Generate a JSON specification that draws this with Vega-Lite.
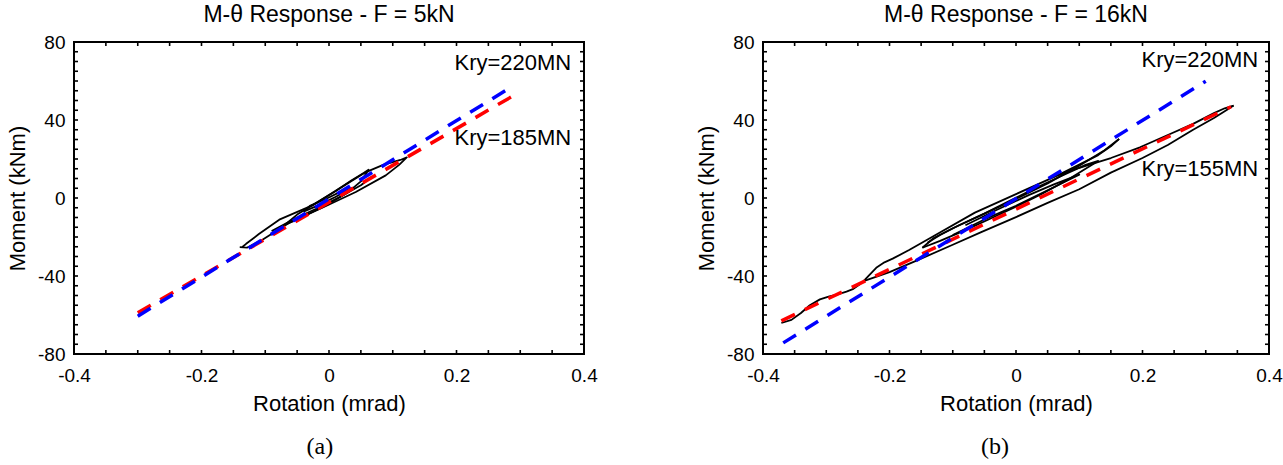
{
  "$schema": "https://vega.github.io/schema/vega-lite/v6.json",
  "background": "white",
  "padding": {"left": 6, "top": 4, "right": 5, "bottom": 5},
  "spacing": 97,
  "config": {
    "view": {"stroke": null},
    "axis": {
      "grid": false, "domain": false, "ticks": false, "labelColor": "black", "titleColor": "black", "labelFont": "Liberation Sans", "titleFont": "Liberation Sans",
      "labelFontSize": 19, "titleFontSize": 22, "titleFontWeight": "normal", "labelFlush": false, "labelOverlap": false
    }
  },
  "datasets": {
    "xticks": [
      {"v": -0.35}, {"v": -0.3}, {"v": -0.25}, {"v": -0.2}, {"v": -0.15}, {"v": -0.1}, {"v": -0.05}, {"v": 0},
      {"v": 0.05}, {"v": 0.1}, {"v": 0.15}, {"v": 0.2}, {"v": 0.25}, {"v": 0.3}, {"v": 0.35}
    ],
    "yticks": [
      {"v": -75}, {"v": -70}, {"v": -65}, {"v": -60}, {"v": -55}, {"v": -50}, {"v": -45}, {"v": -40},
      {"v": -35}, {"v": -30}, {"v": -25}, {"v": -20}, {"v": -15}, {"v": -10}, {"v": -5}, {"v": 0},
      {"v": 5}, {"v": 10}, {"v": 15}, {"v": 20}, {"v": 25}, {"v": 30}, {"v": 35}, {"v": 40},
      {"v": 45}, {"v": 50}, {"v": 55}, {"v": 60}, {"v": 65}, {"v": 70}, {"v": 75}
    ],
    "frame": [{"x0": -0.4, "x1": 0.4, "y0": -80, "y1": 80}],
    "curvesA": [
      {"seg": "A1", "i": 0, "x": -0.14, "y": -25.2}, {"seg": "A1", "i": 1, "x": -0.128, "y": -25.4},
      {"seg": "A1", "i": 2, "x": -0.105, "y": -21.5}, {"seg": "A1", "i": 3, "x": -0.063, "y": -12.8},
      {"seg": "A1", "i": 4, "x": -0.0105, "y": -5}, {"seg": "A1", "i": 5, "x": 0.042, "y": 3.1},
      {"seg": "A1", "i": 6, "x": 0.089, "y": 11.6}, {"seg": "A1", "i": 7, "x": 0.11, "y": 17},
      {"seg": "A1", "i": 8, "x": 0.122, "y": 20.8}, {"seg": "A1", "i": 9, "x": 0.112, "y": 19.5},
      {"seg": "A1", "i": 10, "x": 0.085, "y": 17}, {"seg": "A1", "i": 11, "x": 0.058, "y": 13.3},
      {"seg": "A1", "i": 12, "x": 0.016, "y": 4.8}, {"seg": "A1", "i": 13, "x": -0.026, "y": -3.8},
      {"seg": "A1", "i": 14, "x": -0.078, "y": -11.1}, {"seg": "A1", "i": 15, "x": -0.11, "y": -18.5},
      {"seg": "A1", "i": 16, "x": -0.13, "y": -23.5}, {"seg": "A1", "i": 17, "x": -0.136, "y": -25.1},
      {"seg": "A2", "i": 0, "x": -0.07, "y": -14}, {"seg": "A2", "i": 1, "x": -0.04, "y": -9.5},
      {"seg": "A2", "i": 2, "x": 0, "y": -3}, {"seg": "A2", "i": 3, "x": 0.03, "y": 3},
      {"seg": "A2", "i": 4, "x": 0.05, "y": 8.5}, {"seg": "A2", "i": 5, "x": 0.062, "y": 14.5},
      {"seg": "A2", "i": 6, "x": 0.055, "y": 13}, {"seg": "A2", "i": 7, "x": 0.035, "y": 9},
      {"seg": "A2", "i": 8, "x": 0.01, "y": 3.5}, {"seg": "A2", "i": 9, "x": -0.02, "y": -2.5},
      {"seg": "A2", "i": 10, "x": -0.05, "y": -8.5}, {"seg": "A2", "i": 11, "x": -0.07, "y": -14},
      {"seg": "A3", "i": 0, "x": -0.04, "y": -7}, {"seg": "A3", "i": 1, "x": -0.015, "y": -3.5},
      {"seg": "A3", "i": 2, "x": 0.01, "y": 0.5}, {"seg": "A3", "i": 3, "x": 0.035, "y": 5},
      {"seg": "A3", "i": 4, "x": 0.02, "y": 3.5}, {"seg": "A3", "i": 5, "x": -0.005, "y": -0.5},
      {"seg": "A3", "i": 6, "x": -0.03, "y": -4}, {"seg": "A3", "i": 7, "x": -0.04, "y": -7},
      {"seg": "A4", "i": 0, "x": -0.09, "y": -17}, {"seg": "A4", "i": 1, "x": -0.05, "y": -10},
      {"seg": "A4", "i": 2, "x": -0.02, "y": -5.5}, {"seg": "A4", "i": 3, "x": 0.02, "y": 1},
      {"seg": "A4", "i": 4, "x": 0.05, "y": 6.5}, {"seg": "A4", "i": 5, "x": 0.068, "y": 11}
    ],
    "curvesB": [
      {"seg": "B1", "i": 0, "x": -0.371, "y": -64.1}, {"seg": "B1", "i": 1, "x": -0.355, "y": -62.5},
      {"seg": "B1", "i": 2, "x": -0.34, "y": -59}, {"seg": "B1", "i": 3, "x": -0.326, "y": -55},
      {"seg": "B1", "i": 4, "x": -0.31, "y": -52}, {"seg": "B1", "i": 5, "x": -0.295, "y": -50.5},
      {"seg": "B1", "i": 6, "x": -0.283, "y": -49.5}, {"seg": "B1", "i": 7, "x": -0.268, "y": -48},
      {"seg": "B1", "i": 8, "x": -0.257, "y": -46.6}, {"seg": "B1", "i": 9, "x": -0.248, "y": -44.5},
      {"seg": "B1", "i": 10, "x": -0.241, "y": -42.6}, {"seg": "B1", "i": 11, "x": -0.232, "y": -39.5},
      {"seg": "B1", "i": 12, "x": -0.221, "y": -35.8}, {"seg": "B1", "i": 13, "x": -0.208, "y": -33},
      {"seg": "B1", "i": 14, "x": -0.195, "y": -31.1}, {"seg": "B1", "i": 15, "x": -0.169, "y": -26.7},
      {"seg": "B1", "i": 16, "x": -0.13, "y": -19.5}, {"seg": "B1", "i": 17, "x": -0.065, "y": -7.5},
      {"seg": "B1", "i": 18, "x": 0, "y": 2}, {"seg": "B1", "i": 19, "x": 0.065, "y": 11.5},
      {"seg": "B1", "i": 20, "x": 0.13, "y": 22}, {"seg": "B1", "i": 21, "x": 0.15, "y": 26.5},
      {"seg": "B1", "i": 22, "x": 0.163, "y": 30.3},
      {"seg": "B2", "i": 0, "x": 0.163, "y": 30.3}, {"seg": "B2", "i": 1, "x": 0.14, "y": 24.5},
      {"seg": "B2", "i": 2, "x": 0.1, "y": 16.5}, {"seg": "B2", "i": 3, "x": 0.05, "y": 7.5},
      {"seg": "B2", "i": 4, "x": 0, "y": -0.5}, {"seg": "B2", "i": 5, "x": -0.05, "y": -8},
      {"seg": "B2", "i": 6, "x": -0.1, "y": -15.5}, {"seg": "B2", "i": 7, "x": -0.13, "y": -20.5},
      {"seg": "B2", "i": 8, "x": -0.148, "y": -25.5},
      {"seg": "B3", "i": 0, "x": -0.241, "y": -42.6}, {"seg": "B3", "i": 1, "x": -0.2, "y": -38},
      {"seg": "B3", "i": 2, "x": -0.16, "y": -32.5}, {"seg": "B3", "i": 3, "x": -0.1, "y": -24},
      {"seg": "B3", "i": 4, "x": -0.055, "y": -17.5}, {"seg": "B3", "i": 5, "x": 0, "y": -9.8},
      {"seg": "B3", "i": 6, "x": 0.05, "y": -2.5}, {"seg": "B3", "i": 7, "x": 0.1, "y": 4.5},
      {"seg": "B3", "i": 8, "x": 0.15, "y": 13}, {"seg": "B3", "i": 9, "x": 0.2, "y": 20.5},
      {"seg": "B3", "i": 10, "x": 0.24, "y": 27.2}, {"seg": "B3", "i": 11, "x": 0.28, "y": 35},
      {"seg": "B3", "i": 12, "x": 0.313, "y": 41}, {"seg": "B3", "i": 13, "x": 0.335, "y": 45.5},
      {"seg": "B3", "i": 14, "x": 0.344, "y": 47.4},
      {"seg": "B4", "i": 0, "x": 0.344, "y": 47.4}, {"seg": "B4", "i": 1, "x": 0.33, "y": 46},
      {"seg": "B4", "i": 2, "x": 0.313, "y": 43.5}, {"seg": "B4", "i": 3, "x": 0.28, "y": 38},
      {"seg": "B4", "i": 4, "x": 0.24, "y": 32.3}, {"seg": "B4", "i": 5, "x": 0.196, "y": 26},
      {"seg": "B4", "i": 6, "x": 0.15, "y": 20.5}, {"seg": "B4", "i": 7, "x": 0.1, "y": 15.5},
      {"seg": "B4", "i": 8, "x": 0.065, "y": 11.5},
      {"seg": "B5", "i": 0, "x": -0.148, "y": -25.5}, {"seg": "B5", "i": 1, "x": -0.12, "y": -22},
      {"seg": "B5", "i": 2, "x": -0.08, "y": -16.5}, {"seg": "B5", "i": 3, "x": -0.04, "y": -10.5},
      {"seg": "B5", "i": 4, "x": 0, "y": -4.5}, {"seg": "B5", "i": 5, "x": 0.04, "y": 2},
      {"seg": "B5", "i": 6, "x": 0.08, "y": 9}, {"seg": "B5", "i": 7, "x": 0.11, "y": 15},
      {"seg": "B5", "i": 8, "x": 0.13, "y": 19}, {"seg": "B5", "i": 9, "x": 0.11, "y": 17},
      {"seg": "B5", "i": 10, "x": 0.07, "y": 11}, {"seg": "B5", "i": 11, "x": 0.03, "y": 5},
      {"seg": "B5", "i": 12, "x": -0.01, "y": -1.5}, {"seg": "B5", "i": 13, "x": -0.05, "y": -8},
      {"seg": "B5", "i": 14, "x": -0.09, "y": -14}, {"seg": "B5", "i": 15, "x": -0.12, "y": -19},
      {"seg": "B5", "i": 16, "x": -0.14, "y": -23},
      {"seg": "B6", "i": 0, "x": -0.1, "y": -19}, {"seg": "B6", "i": 1, "x": -0.05, "y": -11},
      {"seg": "B6", "i": 2, "x": 0, "y": -4}, {"seg": "B6", "i": 3, "x": 0.05, "y": 4},
      {"seg": "B6", "i": 4, "x": 0.1, "y": 12}, {"seg": "B6", "i": 5, "x": 0.06, "y": 7},
      {"seg": "B6", "i": 6, "x": 0.02, "y": 1.5}, {"seg": "B6", "i": 7, "x": -0.03, "y": -6},
      {"seg": "B6", "i": 8, "x": -0.08, "y": -14}
    ],
    "linesA": [
      {"k": "220", "x": -0.3, "y": -60.6}, {"k": "220", "x": 0.283, "y": 56.3},
      {"k": "185", "x": -0.3, "y": -58.8}, {"k": "185", "x": 0.29, "y": 52.6}
    ],
    "linesB": [
      {"k": "220", "x": -0.368, "y": -74.3}, {"k": "220", "x": 0.3, "y": 59.9},
      {"k": "155", "x": -0.371, "y": -63}, {"k": "155", "x": 0.34, "y": 46.8}
    ],
    "labelsA": [
      {"x": 0.38, "y": 69, "t": "Kry=220MN"},
      {"x": 0.38, "y": 31, "t": "Kry=185MN"}
    ],
    "labelsB": [
      {"x": 0.383, "y": 71, "t": "Kry=220MN"},
      {"x": 0.383, "y": 15, "t": "Kry=155MN"}
    ]
  },
  "hconcat": [
    {
      "title": {"text": "(a)", "orient": "bottom", "anchor": "middle", "font": "Liberation Serif", "fontSize": 24, "fontWeight": "normal", "color": "black", "offset": 21, "dx": 18},
      "vconcat": [
        {
          "width": 510, "height": 312,
          "title": {"text": "M-θ Response - F = 5kN", "font": "Liberation Sans", "fontSize": 23, "fontWeight": "normal", "color": "black", "offset": 6, "anchor": "middle"},
          "layer": [
            {
              "data": {"name": "curvesA"},
              "mark": {"type": "line", "color": "black", "strokeWidth": 1.8, "strokeJoin": "round"},
              "encoding": {
                "x": {"field": "x", "type": "quantitative", "scale": {"domain": [-0.4, 0.4], "nice": false, "zero": false},
                  "axis": {"orient": "bottom", "title": "Rotation (mrad)", "titlePadding": 8, "labelPadding": 12,
                    "values": [-0.4, -0.2, 0, 0.2, 0.4], "labelExpr": "'' + datum.value"}},
                "y": {"field": "y", "type": "quantitative", "scale": {"domain": [-80, 80], "nice": false, "zero": false},
                  "axis": {"orient": "left", "title": "Moment (kNm)", "titlePadding": 8, "labelPadding": 9,
                    "values": [-80, -40, 0, 40, 80], "labelExpr": "'' + datum.value"}},
                "detail": {"field": "seg"},
                "order": {"field": "i", "type": "quantitative"}
              }
            },
            {
              "data": {"name": "linesA"},
              "transform": [{"filter": "datum.k == '185'"}],
              "mark": {"type": "line", "color": "#ff0000", "strokeWidth": 3.5, "strokeDash": [15, 11]},
              "encoding": {"x": {"field": "x", "type": "quantitative"}, "y": {"field": "y", "type": "quantitative"}}
            },
            {
              "data": {"name": "linesA"},
              "transform": [{"filter": "datum.k == '220'"}],
              "mark": {"type": "line", "color": "#0000ff", "strokeWidth": 3.5, "strokeDash": [15, 11]},
              "encoding": {"x": {"field": "x", "type": "quantitative"}, "y": {"field": "y", "type": "quantitative"}}
            },
            {
              "data": {"name": "labelsA"},
              "mark": {"type": "text", "align": "right", "baseline": "middle", "font": "Liberation Sans", "fontSize": 22, "color": "black"},
              "encoding": {"x": {"field": "x", "type": "quantitative"}, "y": {"field": "y", "type": "quantitative"}, "text": {"field": "t"}}
            },
            {
              "data": {"name": "xticks"},
              "mark": {"type": "tick", "orient": "vertical", "size": 4, "thickness": 1.6, "color": "black", "opacity": 1, "yOffset": -2, "zindex": 2},
              "encoding": {"x": {"field": "v", "type": "quantitative"}, "y": {"datum": -80, "type": "quantitative"}}
            },
            {
              "data": {"name": "xticks"},
              "mark": {"type": "tick", "orient": "vertical", "size": 4, "thickness": 1.6, "color": "black", "opacity": 1, "yOffset": 2, "zindex": 2},
              "encoding": {"x": {"field": "v", "type": "quantitative"}, "y": {"datum": 80, "type": "quantitative"}}
            },
            {
              "data": {"name": "yticks"},
              "mark": {"type": "tick", "orient": "horizontal", "size": 4, "thickness": 1.6, "color": "black", "opacity": 1, "xOffset": 2, "zindex": 2},
              "encoding": {"y": {"field": "v", "type": "quantitative"}, "x": {"datum": -0.4, "type": "quantitative"}}
            },
            {
              "data": {"name": "yticks"},
              "mark": {"type": "tick", "orient": "horizontal", "size": 4, "thickness": 1.6, "color": "black", "opacity": 1, "xOffset": -2, "zindex": 2},
              "encoding": {"y": {"field": "v", "type": "quantitative"}, "x": {"datum": 0.4, "type": "quantitative"}}
            },
            {
              "data": {"name": "frame"},
              "mark": {"type": "rect", "fill": null, "fillOpacity": 0, "stroke": "black", "strokeWidth": 2, "strokeOpacity": 1, "zindex": 2},
              "encoding": {
                "x": {"field": "x0", "type": "quantitative"}, "x2": {"field": "x1"},
                "y": {"field": "y0", "type": "quantitative"}, "y2": {"field": "y1"}
              }
            }
          ]
        }
      ]
    },
    {
      "title": {"text": "(b)", "orient": "bottom", "anchor": "middle", "font": "Liberation Serif", "fontSize": 24, "fontWeight": "normal", "color": "black", "offset": 21, "dx": 6},
      "vconcat": [
        {
          "width": 506, "height": 312,
          "title": {"text": "M-θ Response - F = 16kN", "font": "Liberation Sans", "fontSize": 23, "fontWeight": "normal", "color": "black", "offset": 6, "anchor": "middle"},
          "layer": [
            {
              "data": {"name": "curvesB"},
              "mark": {"type": "line", "color": "black", "strokeWidth": 1.8, "strokeJoin": "round"},
              "encoding": {
                "x": {"field": "x", "type": "quantitative", "scale": {"domain": [-0.4, 0.4], "nice": false, "zero": false},
                  "axis": {"orient": "bottom", "title": "Rotation (mrad)", "titlePadding": 8, "labelPadding": 12,
                    "values": [-0.4, -0.2, 0, 0.2, 0.4], "labelExpr": "'' + datum.value"}},
                "y": {"field": "y", "type": "quantitative", "scale": {"domain": [-80, 80], "nice": false, "zero": false},
                  "axis": {"orient": "left", "title": "Moment (kNm)", "titlePadding": 8, "labelPadding": 9,
                    "values": [-80, -40, 0, 40, 80], "labelExpr": "'' + datum.value"}},
                "detail": {"field": "seg"},
                "order": {"field": "i", "type": "quantitative"}
              }
            },
            {
              "data": {"name": "linesB"},
              "transform": [{"filter": "datum.k == '155'"}],
              "mark": {"type": "line", "color": "#ff0000", "strokeWidth": 3.5, "strokeDash": [15, 11]},
              "encoding": {"x": {"field": "x", "type": "quantitative"}, "y": {"field": "y", "type": "quantitative"}}
            },
            {
              "data": {"name": "linesB"},
              "transform": [{"filter": "datum.k == '220'"}],
              "mark": {"type": "line", "color": "#0000ff", "strokeWidth": 3.5, "strokeDash": [15, 11]},
              "encoding": {"x": {"field": "x", "type": "quantitative"}, "y": {"field": "y", "type": "quantitative"}}
            },
            {
              "data": {"name": "labelsB"},
              "mark": {"type": "text", "align": "right", "baseline": "middle", "font": "Liberation Sans", "fontSize": 22, "color": "black"},
              "encoding": {"x": {"field": "x", "type": "quantitative"}, "y": {"field": "y", "type": "quantitative"}, "text": {"field": "t"}}
            },
            {
              "data": {"name": "xticks"},
              "mark": {"type": "tick", "orient": "vertical", "size": 4, "thickness": 1.6, "color": "black", "opacity": 1, "yOffset": -2, "zindex": 2},
              "encoding": {"x": {"field": "v", "type": "quantitative"}, "y": {"datum": -80, "type": "quantitative"}}
            },
            {
              "data": {"name": "xticks"},
              "mark": {"type": "tick", "orient": "vertical", "size": 4, "thickness": 1.6, "color": "black", "opacity": 1, "yOffset": 2, "zindex": 2},
              "encoding": {"x": {"field": "v", "type": "quantitative"}, "y": {"datum": 80, "type": "quantitative"}}
            },
            {
              "data": {"name": "yticks"},
              "mark": {"type": "tick", "orient": "horizontal", "size": 4, "thickness": 1.6, "color": "black", "opacity": 1, "xOffset": 2, "zindex": 2},
              "encoding": {"y": {"field": "v", "type": "quantitative"}, "x": {"datum": -0.4, "type": "quantitative"}}
            },
            {
              "data": {"name": "yticks"},
              "mark": {"type": "tick", "orient": "horizontal", "size": 4, "thickness": 1.6, "color": "black", "opacity": 1, "xOffset": -2, "zindex": 2},
              "encoding": {"y": {"field": "v", "type": "quantitative"}, "x": {"datum": 0.4, "type": "quantitative"}}
            },
            {
              "data": {"name": "frame"},
              "mark": {"type": "rect", "fill": null, "fillOpacity": 0, "stroke": "black", "strokeWidth": 2, "strokeOpacity": 1, "zindex": 2},
              "encoding": {
                "x": {"field": "x0", "type": "quantitative"}, "x2": {"field": "x1"},
                "y": {"field": "y0", "type": "quantitative"}, "y2": {"field": "y1"}
              }
            }
          ]
        }
      ]
    }
  ]
}
